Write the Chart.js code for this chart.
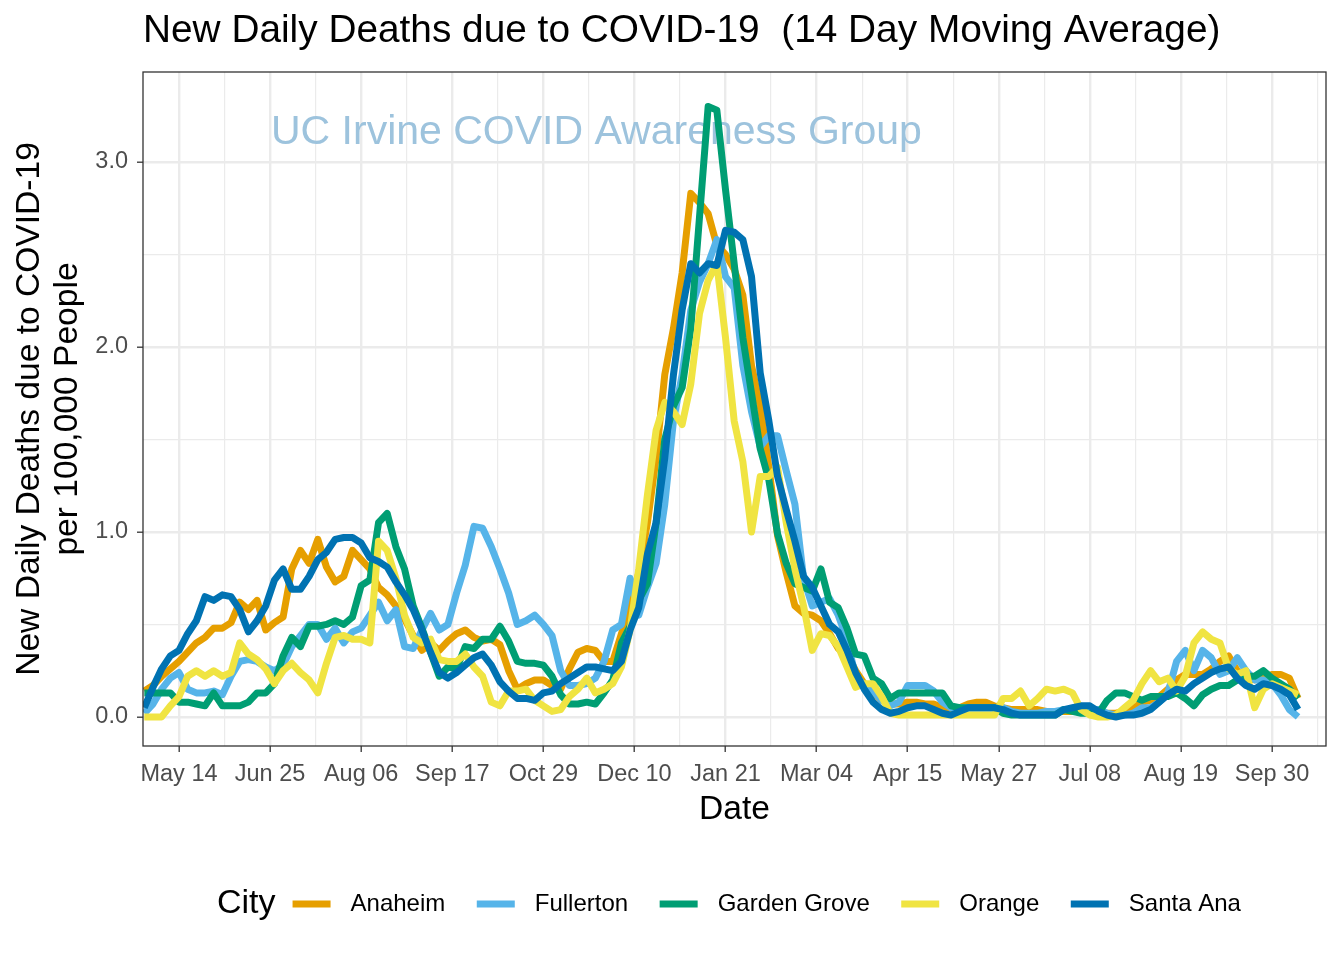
<!DOCTYPE html>
<html>
<head>
<meta charset="utf-8">
<script src="https://cdn.jsdelivr.net/npm/chart.js@4.4.1/dist/chart.umd.min.js"></script>
<style>
  html, body { margin: 0; padding: 0; background: #fff; }
  #chart { display: block; }
</style>
</head>
<body>
<canvas id="chart" width="1344" height="960"></canvas>
<script>
// days counted from May 14 2020
const days = [
  -16,-12,-8,-4,0,4,8,12,16,20,
  24,28,32,36,40,44,48,52,56,60,
  64,68,72,76,80,84,88,92,96,100,
  104,108,112,116,120,124,128,132,136,140,
  144,148,152,156,160,164,168,172,176,180,
  184,188,192,196,200,204,208,212,216,220,
  224,228,232,236,240,244,248,252,256,260,
  264,268,272,276,280,284,288,292,296,300,
  304,308,312,316,320,324,328,332,336,340,
  344,348,352,356,360,364,368,372,376,380,
  384,388,392,396,400,404,408,412,416,420,
  424,428,432,436,440,444,448,452,456,460,
  464,468,472,476,480,484,488,492,496,500,
  504,508,512,516
];

const anaheim = [
  0.14,0.17,0.22,0.26,0.30,0.35,0.40,0.43,0.48,0.48,
  0.51,0.62,0.58,0.63,0.47,0.51,0.54,0.80,0.90,0.83,
  0.96,0.81,0.73,0.76,0.90,0.85,0.80,0.70,0.66,0.60,
  0.53,0.44,0.36,0.40,0.36,0.41,0.45,0.47,0.43,0.41,
  0.42,0.39,0.25,0.15,0.18,0.20,0.20,0.17,0.15,0.26,
  0.35,0.37,0.36,0.30,0.30,0.45,0.58,0.78,1.05,1.40,
  1.85,2.10,2.40,2.83,2.78,2.72,2.55,2.50,2.42,2.28,
  1.90,1.68,1.35,0.98,0.78,0.60,0.56,0.55,0.52,0.45,
  0.37,0.34,0.25,0.18,0.13,0.09,0.07,0.07,0.08,0.08,
  0.07,0.07,0.05,0.04,0.05,0.07,0.08,0.08,0.06,0.05,
  0.04,0.04,0.04,0.04,0.03,0.03,0.03,0.03,0.03,0.03,
  0.02,0.02,0.02,0.03,0.05,0.08,0.09,0.11,0.15,0.20,
  0.23,0.23,0.23,0.26,0.30,0.33,0.25,0.21,0.20,0.21,
  0.23,0.23,0.21,0.10
];

const fullerton = [
  0.02,0.07,0.15,0.21,0.24,0.15,0.13,0.13,0.14,0.12,
  0.22,0.30,0.31,0.30,0.27,0.25,0.28,0.38,0.44,0.50,
  0.50,0.42,0.48,0.40,0.46,0.48,0.55,0.62,0.52,0.58,
  0.38,0.37,0.47,0.56,0.47,0.50,0.67,0.82,1.03,1.02,
  0.92,0.80,0.67,0.50,0.52,0.55,0.50,0.44,0.25,0.17,
  0.17,0.18,0.21,0.30,0.47,0.50,0.75,0.55,0.70,0.83,
  1.15,1.60,1.85,2.20,2.35,2.45,2.58,2.38,2.32,1.90,
  1.65,1.46,1.52,1.52,1.33,1.15,0.75,0.60,0.62,0.64,
  0.55,0.42,0.22,0.17,0.14,0.09,0.06,0.08,0.17,0.17,
  0.17,0.14,0.08,0.05,0.05,0.05,0.05,0.05,0.05,0.05,
  0.03,0.02,0.02,0.02,0.03,0.03,0.04,0.04,0.04,0.04,
  0.04,0.02,0.01,0.01,0.02,0.05,0.05,0.08,0.13,0.30,
  0.36,0.25,0.36,0.32,0.23,0.25,0.32,0.25,0.20,0.20,
  0.18,0.12,0.04,0.00
];

const gardenGrove = [
  0.13,0.13,0.13,0.13,0.08,0.08,0.07,0.06,0.13,0.06,
  0.06,0.06,0.08,0.13,0.13,0.18,0.33,0.43,0.38,0.49,
  0.49,0.50,0.52,0.50,0.54,0.71,0.74,1.05,1.10,0.92,
  0.80,0.60,0.48,0.35,0.22,0.27,0.26,0.38,0.37,0.42,
  0.42,0.49,0.41,0.30,0.29,0.29,0.28,0.22,0.12,0.07,
  0.07,0.08,0.07,0.13,0.20,0.40,0.49,0.63,0.72,1.05,
  1.50,1.68,1.78,2.10,2.70,3.30,3.28,2.85,2.45,2.05,
  1.75,1.45,1.28,0.99,0.83,0.72,0.70,0.68,0.80,0.62,
  0.59,0.48,0.34,0.33,0.21,0.18,0.10,0.13,0.13,0.13,
  0.13,0.13,0.13,0.06,0.05,0.05,0.05,0.05,0.05,0.02,
  0.01,0.01,0.01,0.01,0.01,0.01,0.04,0.03,0.02,0.02,
  0.02,0.09,0.13,0.13,0.11,0.09,0.11,0.11,0.11,0.13,
  0.10,0.06,0.12,0.15,0.17,0.17,0.20,0.22,0.22,0.25,
  0.21,0.18,0.15,0.10
];

const orange = [
  0.00,0.00,0.00,0.06,0.11,0.22,0.25,0.22,0.25,0.22,
  0.24,0.40,0.34,0.31,0.26,0.18,0.25,0.29,0.24,0.20,
  0.13,0.29,0.43,0.44,0.42,0.42,0.40,0.95,0.90,0.75,
  0.55,0.43,0.40,0.42,0.31,0.30,0.30,0.34,0.27,0.22,
  0.08,0.06,0.14,0.14,0.15,0.09,0.06,0.03,0.04,0.11,
  0.15,0.21,0.13,0.15,0.18,0.27,0.47,0.80,1.20,1.55,
  1.70,1.65,1.58,1.80,2.18,2.36,2.45,2.05,1.60,1.38,
  1.00,1.30,1.30,1.35,1.05,0.80,0.60,0.36,0.45,0.44,
  0.38,0.27,0.16,0.18,0.18,0.11,0.02,0.01,0.01,0.01,
  0.01,0.01,0.01,0.01,0.01,0.01,0.01,0.01,0.01,0.10,
  0.10,0.14,0.06,0.10,0.15,0.14,0.15,0.13,0.04,0.01,
  0.00,0.00,0.01,0.05,0.09,0.18,0.25,0.19,0.21,0.14,
  0.22,0.40,0.46,0.42,0.40,0.26,0.23,0.25,0.05,0.15,
  0.18,0.16,0.14,0.12
];

const santaAna = [
  0.05,0.16,0.26,0.33,0.36,0.45,0.52,0.65,0.63,0.66,
  0.65,0.58,0.46,0.52,0.60,0.74,0.80,0.69,0.69,0.76,
  0.85,0.89,0.96,0.97,0.97,0.94,0.86,0.84,0.81,0.73,
  0.66,0.58,0.47,0.35,0.24,0.21,0.24,0.28,0.32,0.34,
  0.28,0.19,0.14,0.10,0.10,0.09,0.13,0.14,0.18,0.21,
  0.24,0.27,0.27,0.26,0.25,0.30,0.47,0.59,0.88,1.05,
  1.40,1.85,2.20,2.45,2.40,2.45,2.44,2.63,2.62,2.58,
  2.38,1.86,1.60,1.30,1.12,0.95,0.76,0.70,0.60,0.50,
  0.46,0.36,0.24,0.15,0.08,0.04,0.02,0.03,0.05,0.06,
  0.06,0.04,0.02,0.01,0.03,0.05,0.05,0.05,0.05,0.04,
  0.02,0.01,0.01,0.01,0.01,0.01,0.04,0.05,0.06,0.06,
  0.03,0.01,0.00,0.01,0.01,0.02,0.04,0.08,0.12,0.15,
  0.14,0.18,0.21,0.24,0.26,0.27,0.21,0.17,0.15,0.18,
  0.17,0.15,0.12,0.04
];

const cities = ['Anaheim', 'Fullerton', 'Garden Grove', 'Orange', 'Santa Ana'];
const colors = ['#E69F00', '#56B4E9', '#009E73', '#F0E442', '#0072B2'];
const series = [anaheim, fullerton, gardenGrove, orange, santaAna];

const tickDays = [0, 42, 84, 126, 168, 210, 252, 294, 336, 378, 420, 462, 504];
const tickLabels = ['May 14','Jun 25','Aug 06','Sep 17','Oct 29','Dec 10','Jan 21','Mar 04','Apr 15','May 27','Jul 08','Aug 19','Sep 30'];
const gridDays = [0,21,42,63,84,105,126,147,168,189,210,231,252,273,294,315,336,357,378,399,420,441,462,483,504,525];
const yTicks = [0, 1, 2, 3];
const yTickLabels = ['0.0', '1.0', '2.0', '3.0'];
const yGrid = [0, 0.5, 1, 1.5, 2, 2.5, 3];

const FONT = '"Liberation Sans", Arial, Helvetica, sans-serif';
const titleText = 'New Daily Deaths due to COVID-19  (14 Day Moving Average)';
const watermark = 'UC Irvine COVID Awareness Group';

const decor = {
  id: 'decor',
  beforeDatasetsDraw(chart) {
    const {ctx, scales} = chart;
    ctx.save();
    ctx.font = '41px ' + FONT;
    ctx.fillStyle = '#9DC3DD';
    ctx.textAlign = 'center';
    ctx.textBaseline = 'middle';
    ctx.fillText(watermark, scales.x.getPixelForValue(192.5), scales.y.getPixelForValue(3.16));
    ctx.restore();
  },
  afterDatasetsDraw(chart) {
    const {ctx, chartArea: a} = chart;
    ctx.save();
    ctx.strokeStyle = '#333333';
    ctx.lineWidth = 1.3;
    ctx.strokeRect(a.left, a.top, a.right - a.left, a.bottom - a.top);
    ctx.restore();
  },
  afterDraw(chart) {
    const ctx = chart.ctx;
    ctx.save();
    ctx.fillStyle = '#000';
    ctx.textBaseline = 'middle';
    ctx.textAlign = 'left';
    ctx.font = '38.8px ' + FONT;
    ctx.fillText(titleText, 143, 31);

    // legend
    const ly = 904;
    ctx.font = '34px ' + FONT;
    ctx.fillText('City', 217, ly);
    let lx = 217 + ctx.measureText('City').width + 17;
    ctx.font = '24px ' + FONT;
    cities.forEach((c, i) => {
      ctx.fillStyle = colors[i];
      ctx.fillRect(lx, ly - 3.5, 38, 7);
      ctx.fillStyle = '#000';
      ctx.fillText(c, lx + 58, ly);
      lx += 58 + ctx.measureText(c).width + 31.5;
    });
    ctx.restore();
  }
};

const isMajorX = (ctx) => ctx.tick && tickDays.includes(ctx.tick.value);
const isMajorY = (ctx) => ctx.tick && yTicks.includes(ctx.tick.value);

new Chart(document.getElementById('chart'), {
  type: 'line',
  data: {
    datasets: cities.map((c, i) => ({
      label: c,
      data: days.map((d, j) => ({x: d, y: series[i][j]})),
      borderColor: colors[i],
      backgroundColor: colors[i],
      borderWidth: 7,
      borderJoinStyle: 'round',
      pointRadius: 0,
      tension: 0,
      fill: false,
      order: cities.length - i
    }))
  },
  options: {
    responsive: false,
    animation: false,
    events: [],
    layout: { padding: { top: 72, left: 0, right: 18, bottom: 130 } },
    plugins: {
      legend: { display: false },
      tooltip: { enabled: false },
      title: { display: false }
    },
    scales: {
      x: {
        type: 'linear',
        min: -16.6,
        max: 528.9,
        afterBuildTicks: s => { s.ticks = gridDays.map(v => ({value: v})); },
        afterFit: s => { s.height = 84; },
        ticks: {
          autoSkip: false,
          maxRotation: 0,
          padding: 8,
          color: '#4D4D4D',
          font: { family: FONT, size: 23.5 },
          callback: v => { const i = tickDays.indexOf(v); return i >= 0 ? tickLabels[i] : ''; }
        },
        grid: {
          color: '#EBEBEB',
          lineWidth: ctx => isMajorX(ctx) ? 2.4 : 1.2,
          tickColor: ctx => isMajorX(ctx) ? '#333333' : 'rgba(0,0,0,0)',
          tickLength: 6,
          tickWidth: 1.3
        },
        border: { display: false },
        title: {
          display: true,
          text: 'Date',
          color: '#000',
          font: { family: FONT, size: 33.6 },
          padding: { top: 0, bottom: 0 }
        }
      },
      y: {
        type: 'linear',
        min: -0.157,
        max: 3.486,
        afterBuildTicks: s => { s.ticks = yGrid.map(v => ({value: v})); },
        afterFit: s => { s.width = 143; },
        ticks: {
          autoSkip: false,
          padding: 9,
          color: '#4D4D4D',
          font: { family: FONT, size: 23.5 },
          callback: v => { const i = yTicks.indexOf(v); return i >= 0 ? yTickLabels[i] : ''; }
        },
        grid: {
          color: '#EBEBEB',
          lineWidth: ctx => isMajorY(ctx) ? 2.4 : 1.2,
          tickColor: ctx => isMajorY(ctx) ? '#333333' : 'rgba(0,0,0,0)',
          tickLength: 6,
          tickWidth: 1.3
        },
        border: { display: false },
        title: {
          display: true,
          text: ['New Daily Deaths due to COVID-19', 'per 100,000 People'],
          color: '#000',
          font: { family: FONT, size: 33.6, lineHeight: 1.13 },
          padding: { top: 11, bottom: 0 }
        }
      }
    }
  },
  plugins: [decor]
});
</script>
</body>
</html>
